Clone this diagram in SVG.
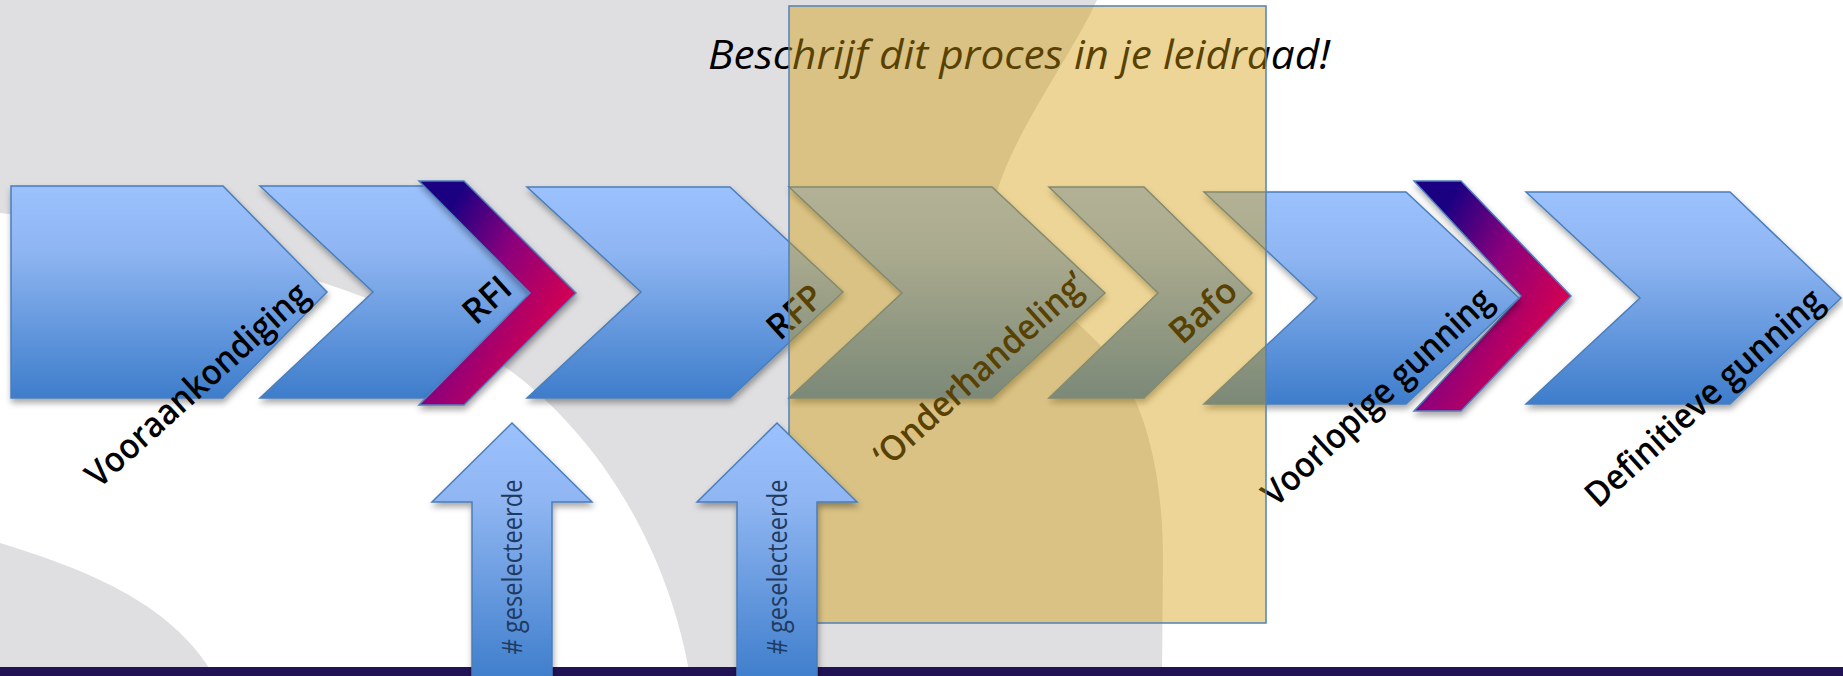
<svg xmlns="http://www.w3.org/2000/svg" width="1843" height="676" viewBox="0 0 1843 676">
<defs>
<linearGradient id="blue" x1="0" y1="0" x2="0" y2="1">
<stop offset="0" stop-color="#9cc2fe"/>
<stop offset="0.3" stop-color="#8fb6f2"/>
<stop offset="1" stop-color="#3e7dcb"/>
</linearGradient>
<linearGradient id="mag" x1="0.3" y1="0" x2="1" y2="0.55">
<stop offset="0" stop-color="#1c0082"/>
<stop offset="0.45" stop-color="#8c007c"/>
<stop offset="1" stop-color="#d9004e"/>
</linearGradient>
<filter id="sh" x="-10%" y="-10%" width="125%" height="130%">
<feDropShadow dx="1" dy="4" stdDeviation="3" flood-color="#000" flood-opacity="0.35"/>
</filter>
<style>
.chev{fill:url(#blue);stroke:#4a7ebb;stroke-width:1.5;filter:url(#sh)}
.mag{fill:url(#mag);stroke:#4f7fc0;stroke-width:1.5;filter:url(#sh)}
.lbl{font-family:"Open Sans","Noto Sans",sans-serif;font-weight:600;font-size:35px;fill:#000;text-anchor:middle}
.arr{fill:url(#blue);stroke:#4a7ebb;stroke-width:1.5;filter:url(#sh)}
.atxt{font-family:"Open Sans","Noto Sans",sans-serif;font-size:27px;fill:#1f3a60;text-anchor:middle}
.title{font-family:"Open Sans","Noto Sans",sans-serif;font-style:italic;font-size:41px;fill:#000;text-anchor:middle}
</style>
</defs>
<g id="background">
<rect x="0" y="0" width="1843" height="676" fill="#ffffff"/>
<path d="M0,0 L1097,0 C1070,60 1000,150 992,215 C987,265 1055,298 1090,335 C1140,380 1163,460 1163,560 L1162,676 L690,676 C670,560 610,450 520,378 C420,300 200,235 0,213 Z" fill="#dfdfe1"/>
<path d="M0,543 C80,568 170,600 214,676 L0,676 Z" fill="#dfdfe1"/>
<rect x="0" y="667" width="1843" height="9" fill="#211256"/>
</g>
<g id="title">
<text class="title" x="1019" y="69" textLength="622" lengthAdjust="spacingAndGlyphs">Beschrijf dit proces in je leidraad!</text>
</g>
<g id="vooraankondiging">
<path class="chev" d="M11,186 L223,186 L327,292 L223,398 L11,398 Z"/>
<text class="lbl" transform="translate(199,387) rotate(-42)" y="9" textLength="286" lengthAdjust="spacingAndGlyphs">Vooraankondiging</text>
</g>
<g id="rfi">
<path class="chev" d="M260,186 L429,186 L533,292 L429,398 L260,398 L373,292 Z"/>
<text class="lbl" transform="translate(487,300) rotate(-42)" y="12">RFI</text>
</g>
<g id="gate1">
<path class="mag" d="M419,181 L464,181 L576,293 L464,405 L419,405 L530,293 Z"/>
</g>
<g id="rfp">
<path class="chev" d="M527,187 L730,187 L843,292 L730,398 L527,398 L641,292 Z"/>
<text class="lbl" transform="translate(795,312) rotate(-42)" y="12">RFP</text>
</g>
<g id="onderhandeling">
<path class="chev" d="M789,187 L992,187 L1105,293 L992,398 L789,398 L902,293 Z"/>
<text class="lbl" transform="translate(982,372) rotate(-42)" y="9" textLength="272" lengthAdjust="spacingAndGlyphs">‘Onderhandeling’</text>
</g>
<g id="bafo">
<path class="chev" d="M1049,187 L1144,187 L1252,293 L1144,398 L1049,398 L1158,293 Z"/>
<text class="lbl" transform="translate(1203,311) rotate(-42)" y="12">Bafo</text>
</g>
<g id="gate2">
<path class="mag" d="M1414,181 L1461,181 L1571,296 L1461,411 L1414,411 L1521,296 Z"/>
</g>
<g id="voorlopige-gunning">
<path class="chev" d="M1204,192 L1406,192 L1519,298 L1406,404 L1204,404 L1317,298 Z"/>
<text class="lbl" transform="translate(1379,399) rotate(-43)" y="9" textLength="300" lengthAdjust="spacingAndGlyphs">Voorlopige gunning</text>
</g>
<g id="definitieve-gunning">
<path class="chev" d="M1526,192 L1730,192 L1841,298 L1730,404 L1526,404 L1640,298 Z"/>
<text class="lbl" transform="translate(1706,400) rotate(-42)" y="9" textLength="306" lengthAdjust="spacingAndGlyphs">Definitieve gunning</text>
</g>
<g id="negotiation-phase">
<rect x="789" y="6" width="477" height="617" fill="#d29b05" fill-opacity="0.42" stroke="#4f81bd" stroke-width="1.5"/>
</g>
<g id="connectors">
<g id="input-rfi">
<path class="arr" d="M512,423 L592,502 L552,502 L552,682 L472,682 L472,502 L432,502 Z"/>
<text class="atxt" transform="translate(522,567) rotate(-90)" textLength="175" lengthAdjust="spacingAndGlyphs"># geselecteerde</text>
</g>
<g id="input-rfp">
<path class="arr" d="M777,423 L857,502 L817,502 L817,682 L737,682 L737,502 L697,502 Z"/>
<text class="atxt" transform="translate(787,567) rotate(-90)" textLength="175" lengthAdjust="spacingAndGlyphs"># geselecteerde</text>
</g>
</g>
</svg>
